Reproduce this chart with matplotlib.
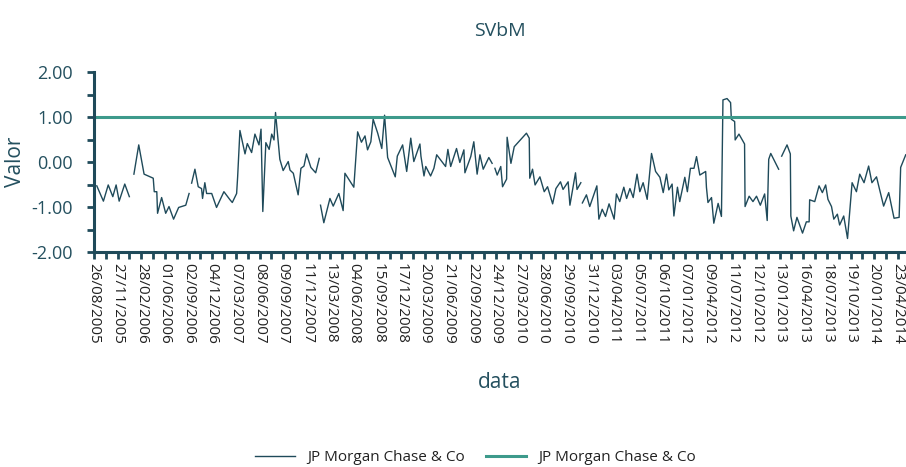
import numpy as np
import matplotlib
matplotlib.use("Agg")
import matplotlib.pyplot as plt

nan = np.nan

# dias desde 26/08/2005 y valor (nan = hueco en la serie)
dias = [
    11, 37, 56, 74, 87, 99, 121, 139, 148,
    157, 176, 197, 233, 237, 247, 250, 266, 282, 295, 313, 333, 361, 374, 379,
    384, 397, 410, 423, 427, 436, 443, 463, 482, 511, 535, 544, 561, 565, 574,
    594, 603, 620, 633, 649, 657, 664, 676, 689, 699, 708, 714, 731, 744, 764,
    771, 784, 803, 814, 826, 836, 853, 872, 886, 888,
    891, 904, 928, 941, 963, 980, 987, 1022, 1037, 1052, 1066, 1076, 1089, 1098,
    1116, 1132, 1143, 1155, 1185, 1193, 1214, 1230, 1246, 1258, 1282, 1286,
    1298, 1305, 1324, 1337, 1348, 1383, 1392, 1403, 1426, 1439, 1455, 1459,
    1482, 1494, 1507, 1518, 1531, 1553, 1566, 1571,
    1577, 1586, 1600, 1607, 1623, 1625, 1640, 1653, 1701, 1712, 1714, 1725,
    1735, 1754, 1771, 1784, 1804, 1817, 1835, 1845, 1865, 1872, 1894, 1900,
    1915, 1918,
    1921, 1937, 1950, 1978, 1986, 1999, 2012, 2026, 2046, 2055, 2068, 2084,
    2095, 2108, 2121, 2136, 2147, 2160, 2176, 2193, 2209, 2226, 2239, 2252,
    2261, 2274, 2281, 2295, 2304, 2324, 2334, 2346, 2360, 2370, 2383, 2406,
    2409, 2415, 2429, 2438, 2455, 2468, 2474, 2490, 2504, 2507, 2520, 2522,
    2537, 2559, 2561, 2577, 2592, 2606, 2621, 2638, 2648, 2654, 2662, 2678,
    2693, 2699,
    2705, 2726, 2739, 2741, 2752, 2765, 2787, 2802, 2813, 2815, 2835, 2852,
    2865, 2878, 2887, 2901, 2910, 2924, 2933, 2949, 2964, 2982, 2999, 3012,
    3029, 3047, 3060, 3078, 3106, 3126, 3147, 3167, 3173, 3193,
]
valores = [
    -0.53, -0.87, -0.51, -0.77, -0.51, -0.87, -0.49, -0.77, nan,
    -0.27, 0.38, -0.27, -0.36, -0.66, -0.66, -1.14, -0.79, -1.14, -0.99, -1.27, -1.01, -0.96, -0.70, nan,
    -0.47, -0.16, -0.55, -0.59, -0.81, -0.46, -0.70, -0.70, -1.01, -0.66, -0.84, -0.90, -0.70, -0.33, 0.70,
    0.18, 0.41, 0.21, 0.62, 0.38, 0.73, -1.10, 0.43, 0.28, 0.62, 0.49, 1.10, 0.06, -0.19, 0.01,
    -0.18, -0.25, -0.73, -0.14, -0.09, 0.18, -0.12, -0.24, 0.08, nan,
    -0.96, -1.35, -0.81, -0.98, -0.70, -1.08, -0.25, -0.56, 0.67, 0.44, 0.58, 0.27, 0.45, 0.95,
    0.64, 0.30, 1.04, 0.10, -0.33, 0.13, 0.38, -0.21, 0.53, 0.01, 0.40, 0.13,
    -0.31, -0.10, -0.31, -0.14, 0.16, -0.10, 0.28, -0.10, 0.30, -0.01, 0.27, -0.24,
    0.12, 0.45, -0.27, 0.16, -0.16, 0.10, -0.03, nan,
    -0.14, -0.29, -0.10, -0.55, -0.38, 0.55, -0.03, 0.34, 0.64, 0.53, -0.36, -0.16,
    -0.51, -0.33, -0.66, -0.55, -0.93, -0.59, -0.44, -0.61, -0.44, -0.96, -0.24, -0.61,
    -0.46, nan,
    -0.91, -0.73, -0.99, -0.53, -1.27, -1.05, -1.21, -0.93, -1.27, -0.71, -0.88, -0.56,
    -0.81, -0.59, -0.79, -0.27, -0.66, -0.46, -0.83, 0.19, -0.21, -0.34, -0.68, -0.27,
    -0.62, -0.49, -1.20, -0.56, -0.88, -0.34, -0.66, -0.14, -0.14, 0.12, -0.29, -0.21,
    -0.56, -0.90, -0.79, -1.36, -0.92, -1.21, 1.38, 1.41, 1.32, 0.95, 0.90, 0.49,
    0.62, 0.40, -0.99, -0.76, -0.88, -0.76, -0.96, -0.71, -1.30, 0.06, 0.19, 0.01,
    -0.16, nan,
    0.13, 0.38, 0.18, -1.20, -1.53, -1.23, -1.58, -1.33, -1.33, -0.84, -0.88, -0.53,
    -0.68, -0.51, -0.83, -0.99, -1.27, -1.16, -1.40, -1.20, -1.70, -0.46, -0.66, -0.27,
    -0.46, -0.09, -0.46, -0.33, -0.98, -0.68, -1.25, -1.23, -0.12, 0.16,
]
limite = 1.0

etiquetas = [
    "26/08/2005", "27/11/2005", "28/02/2006", "01/06/2006", "02/09/2006",
    "04/12/2006", "07/03/2007", "08/06/2007", "09/09/2007", "11/12/2007",
    "13/03/2008", "04/06/2008", "15/09/2008", "17/12/2008", "20/03/2009",
    "21/06/2009", "22/09/2009", "24/12/2009", "27/03/2010", "28/06/2010",
    "29/09/2010", "31/12/2010", "03/04/2011", "05/07/2011", "06/10/2011",
    "07/01/2012", "09/04/2012", "11/07/2012", "12/10/2012", "13/01/2013",
    "16/04/2013", "18/07/2013", "19/10/2013", "20/01/2014", "23/04/2014",
]
paso_etiquetas = 93  # dias entre etiquetas del eje x

c_linea = "#1f4a5a"
c_limite = "#3d9a8b"
c_texto = "#24505f"

plt.rcParams['font.family'] = ['Open Sans', 'DejaVu Sans']

fig = plt.figure(figsize=(9.06, 4.67), dpi=100)
ax = fig.add_axes([94 / 906, 1 - 252 / 467, 812 / 906, 180 / 467])

ax.plot(dias, valores, color=c_linea, lw=1.0, label="JP Morgan Chase & Co")
ax.axhline(limite, color=c_limite, lw=2.2, label="JP Morgan Chase & Co")

ax.set_xlim(0, 3194)
ax.set_ylim(-2, 2)

pos = [i * paso_etiquetas for i in range(len(etiquetas))]
ax.set_xticks(pos)
ax.set_xticklabels(etiquetas, rotation=-90, fontsize=11, color="#222222")
ax.set_xticks([p + paso_etiquetas / 2 for p in pos[:-1]], minor=True)

ax.set_yticks([-2, -1, 0, 1, 2])
ax.set_yticklabels([f"{v:.2f}" for v in [-2, -1, 0, 1, 2]], fontsize=13, color=c_texto)
ax.set_yticks([-1.5, -0.5, 0.5, 1.5], minor=True)

for s in ["top", "right"]:
    ax.spines[s].set_visible(False)
for s in ["left", "bottom"]:
    ax.spines[s].set_color(c_linea)
    ax.spines[s].set_linewidth(2.2)

ax.tick_params(axis="both", which="both", length=5, width=2, color=c_linea)
ax.tick_params(axis="x", which="both", pad=3)
ax.tick_params(axis="y", which="major", pad=10)

ax.set_title("SVbM", fontsize=14, color=c_texto, pad=26)
ax.set_ylabel("Valor", fontsize=15, color=c_texto, labelpad=4)
ax.set_xlabel("data", fontsize=15, color=c_texto, labelpad=20)

fig.legend(loc="lower center", bbox_to_anchor=(0.525, -0.025), ncol=2, frameon=False,
           fontsize=11, handlelength=2.6, columnspacing=1.4, labelcolor="#222222")

fig.savefig("out.png", dpi=100)
